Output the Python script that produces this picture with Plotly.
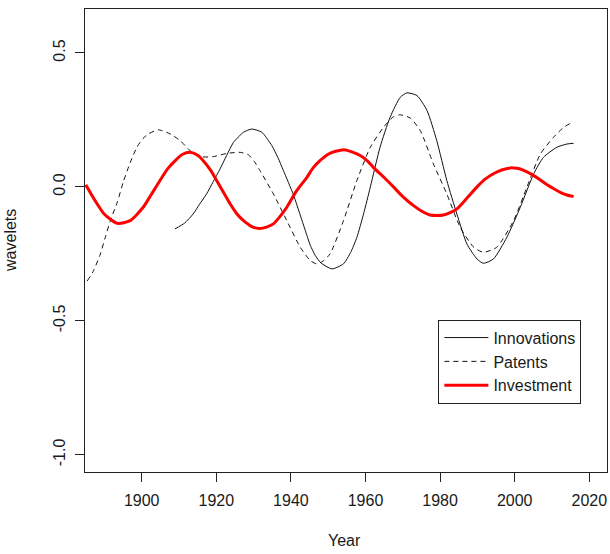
import plotly.graph_objects as go

inv_years = [1885.0, 1887.5, 1890.0, 1893.5, 1896.9, 1900.4, 1902.5, 1904.9, 1907.0, 1909.4,
             1911.0, 1913.0, 1915.0, 1916.5, 1918.5, 1920.1, 1922.0, 1923.7, 1925.5, 1927.3,
             1929.5, 1931.5, 1933.5, 1935.3, 1937.0, 1938.9, 1941.5, 1944.3, 1946.0, 1947.8,
             1950.0, 1952.0, 1954.3, 1956.5, 1958.6, 1960.5, 1962.1, 1965.0, 1967.5, 1970.0,
             1972.9, 1975.0, 1977.3, 1979.2, 1980.9, 1982.7, 1984.5, 1987.0, 1989.9, 1992.0,
             1994.3, 1996.5, 1998.8, 2000.5, 2001.5, 2003.3, 2005.1, 2007.0, 2008.6, 2010.5,
             2012.2, 2014.0, 2015.8]
inv_vals = [0.008, -0.051, -0.102, -0.136, -0.126, -0.076, -0.030, 0.024, 0.068, 0.104,
            0.122, 0.129, 0.118, 0.098, 0.062, 0.024, -0.022, -0.063, -0.100, -0.126,
            -0.148, -0.155, -0.150, -0.138, -0.112, -0.076, -0.015, 0.036, 0.072, 0.098,
            0.122, 0.133, 0.139, 0.130, 0.117, 0.097, 0.073, 0.035, 0.000, -0.036,
            -0.070, -0.090, -0.105, -0.107, -0.105, -0.096, -0.082, -0.045, 0.000, 0.028,
            0.049, 0.063, 0.071, 0.070, 0.067, 0.056, 0.042, 0.025, 0.009, -0.007,
            -0.020, -0.030, -0.036]

innov_years = [1908.9, 1911.5, 1913.8, 1915.5, 1917.4, 1919.2, 1921.0, 1922.8, 1924.6, 1927.3,
               1929.5, 1932.2, 1934.9, 1936.5, 1938.0, 1940.7, 1942.5, 1943.8, 1945.2, 1946.5,
               1948.0, 1951.0, 1954.1, 1956.0, 1957.7, 1959.5, 1961.3, 1963.9, 1966.6, 1969.3,
               1971.1, 1973.8, 1976.5, 1979.1, 1981.8, 1984.5, 1987.2, 1989.9, 1991.6, 1994.3,
               1997.9, 2001.5, 2005.1, 2007.7, 2011.3, 2014.0, 2015.8]
innov_vals = [-0.157, -0.135, -0.101, -0.065, -0.026, 0.020, 0.067, 0.118, 0.166, 0.204,
              0.216, 0.204, 0.154, 0.110, 0.061, -0.030, -0.105, -0.160, -0.218, -0.255,
              -0.283, -0.306, -0.287, -0.245, -0.188, -0.100, 0.000, 0.148, 0.260, 0.334,
              0.351, 0.341, 0.285, 0.173, 0.024, -0.101, -0.213, -0.269, -0.285, -0.269,
              -0.188, -0.076, 0.049, 0.110, 0.148, 0.160, 0.163]

pat_years = [1885.4, 1887.0, 1888.8, 1890.2, 1891.5, 1893.5, 1895.1, 1896.9, 1898.7, 1900.3,
             1901.8, 1904.5, 1907.6, 1910.3, 1913.0, 1915.6, 1919.2, 1922.8, 1926.4, 1928.6,
             1930.2, 1931.7, 1935.3, 1938.9, 1942.5, 1945.2, 1946.9, 1948.5, 1950.5, 1954.1,
             1957.7, 1961.3, 1964.8, 1967.5, 1969.3, 1972.0, 1974.7, 1978.2, 1981.8, 1985.4,
             1989.0, 1991.6, 1995.2, 1999.7, 2003.3, 2006.9, 2010.4, 2013.1, 2014.9]
pat_vals = [-0.351, -0.315, -0.255, -0.190, -0.130, -0.055, 0.020, 0.090, 0.148, 0.180,
            0.198, 0.213, 0.198, 0.173, 0.135, 0.113, 0.113, 0.125, 0.129, 0.120,
            0.095, 0.061, -0.026, -0.126, -0.225, -0.275, -0.287, -0.278, -0.250, -0.126,
            0.024, 0.148, 0.222, 0.262, 0.269, 0.257, 0.210, 0.086, -0.026, -0.151,
            -0.225, -0.244, -0.225, -0.126, 0.000, 0.123, 0.185, 0.222, 0.237]

x_ticks = [1900, 1920, 1940, 1960, 1980, 2000, 2020]
x_tick_labels = ["1900", "1920", "1940", "1960", "1980", "2000", "2020"]
y_ticks = [0.5, 0.0, -0.5, -1.0]
y_tick_labels = ["0.5", "0.0", "-0.5", "-1.0"]

FONT = "Liberation Sans, Arial, sans-serif"
TXT = "#1a1a1a"

fig = go.Figure()
fig.add_trace(go.Scatter(x=innov_years, y=innov_vals, mode="lines", name="Innovations",
                         line=dict(color="#111111", width=1, shape="spline", smoothing=0.6)))
fig.add_trace(go.Scatter(x=pat_years, y=pat_vals, mode="lines", name="Patents",
                         line=dict(color="#111111", width=1, dash="5px,4px", shape="spline", smoothing=0.6)))
fig.add_trace(go.Scatter(x=inv_years, y=inv_vals, mode="lines", name="Investment",
                         line=dict(color="#ff0000", width=3, shape="spline", smoothing=0.6)))

fig.update_layout(
    width=610, height=554,
    margin=dict(l=85, r=3, t=9, b=82, pad=0),
    paper_bgcolor="white", plot_bgcolor="white",
    font=dict(family=FONT, size=16, color=TXT),
    showlegend=True,
    legend=dict(x=0.677, y=0.329, xanchor="left", yanchor="top",
                bordercolor="#222222", borderwidth=1, bgcolor="white",
                font=dict(family=FONT, size=16, color=TXT),
                tracegroupgap=0, itemwidth=44),
    xaxis=dict(range=[1884.8, 2024.75], tickmode="array", tickvals=x_ticks, ticktext=x_tick_labels,
               ticks="outside", ticklen=9, tickcolor="#222222", tickwidth=1,
               showline=True, linecolor="#222222", linewidth=1, mirror=True,
               showgrid=False, zeroline=False, ticklabelstandoff=5,
               tickfont=dict(family=FONT, size=16, color=TXT)),
    yaxis=dict(range=[-1.064, 0.664], tickmode="array", tickvals=y_ticks, ticktext=y_tick_labels,
               ticks="outside", ticklen=9, tickcolor="#222222", tickwidth=1, tickangle=-90,
               showline=True, linecolor="#222222", linewidth=1, mirror=True,
               showgrid=False, zeroline=False, ticklabelstandoff=4,
               tickfont=dict(family=FONT, size=16, color=TXT)),
    annotations=[
        dict(text="Year", xref="paper", yref="paper", x=0.497, y=-0.149,
             xanchor="center", yanchor="middle", showarrow=False,
             font=dict(family=FONT, size=16, color=TXT)),
        dict(text="wavelets", xref="paper", yref="paper", x=-0.1428, y=0.5,
             xanchor="center", yanchor="middle", showarrow=False, textangle=-90,
             font=dict(family=FONT, size=16, color=TXT)),
    ],
)

fig.write_html("out.html")
